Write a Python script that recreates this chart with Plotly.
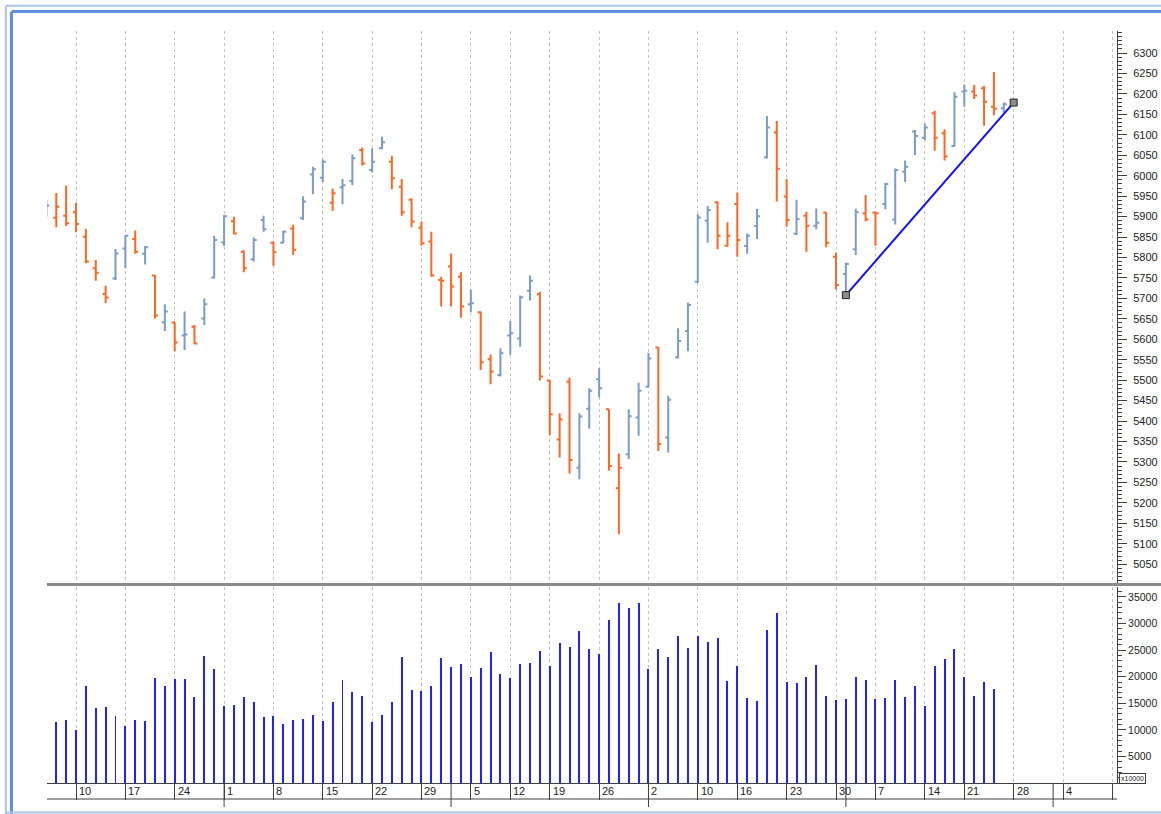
import plotly.graph_objects as go

# ---------------- data ----------------
bar_idx = list(range(-1, 97))
opens = [5915,
         5897, 5902, 5911, 5851, 5774, 5711, 5749, 5822, 5845, 5809,
         5756, 5642, 5641, 5609, 5631, 5651, 5751, 5837, 5889, 5814,
         5796, 5892, 5836, 5836, 5871, 5896, 6003, 5995, 5934, 5972,
         5987, 6063, 6014, 6067, 6034, 5973, 5941, 5873, 5839, 5745,
         5778, 5753, 5686, 5666, 5551, 5513, 5609, 5602, 5719, 5710,
         5499, 5355, 5496, 5286, 5430, 5502, 5429, 5236, 5319, 5409,
         5484, 5580, 5360, 5556, 5620, 5741, 5890, 5935, 5829, 5931,
         5828, 5877, 6045, 6106, 5949, 5858, 5902, 5878, 5910, 5802,
         5760, 5820, 5908, 5910, 5931, 5893, 6010, 6108, 6093, 6153,
         6104, 6073, 6206, 6206, 6214, 6169, 6165]
highs = [5940,
         5958, 5976, 5934, 5870, 5794, 5731, 5821, 5855, 5866, 5828,
         5757, 5686, 5642, 5668, 5635, 5700, 5853, 5904, 5900, 5818,
         5849, 5902, 5839, 5866, 5880, 5950, 6022, 6040, 5969, 5992,
         6052, 6069, 6067, 6096, 6049, 5992, 5945, 5888, 5863, 5753,
         5810, 5764, 5722, 5668, 5563, 5578, 5645, 5707, 5756, 5716,
         5500, 5419, 5506, 5419, 5480, 5529, 5429, 5321, 5429, 5494,
         5567, 5582, 5462, 5627, 5690, 5906, 5926, 5937, 5886, 5959,
         5859, 5919, 6146, 6134, 5992, 5941, 5912, 5920, 5911, 5812,
         5788, 5919, 5953, 5912, 5983, 6018, 6037, 6112, 6128, 6159,
         6114, 6204, 6223, 6222, 6220, 6254, 6179]
lows = [5900,
        5874, 5877, 5862, 5786, 5743, 5688, 5745, 5774, 5809, 5783,
        5651, 5620, 5571, 5574, 5588, 5635, 5749, 5828, 5857, 5764,
        5790, 5863, 5780, 5835, 5806, 5892, 5955, 5984, 5914, 5930,
        5977, 6025, 6008, 6065, 5967, 5902, 5874, 5829, 5753, 5680,
        5680, 5653, 5666, 5525, 5490, 5509, 5562, 5582, 5695, 5499,
        5366, 5311, 5272, 5258, 5381, 5458, 5279, 5123, 5307, 5364,
        5483, 5327, 5323, 5553, 5571, 5738, 5836, 5820, 5827, 5802,
        5809, 5845, 6042, 5937, 5875, 5855, 5814, 5869, 5825, 5722,
        5710, 5806, 5889, 5829, 5918, 5881, 5985, 6051, 6087, 6061,
        6037, 6071, 6169, 6188, 6122, 6148, 6154]
closes = [5927,
          5924, 5884, 5882, 5790, 5763, 5702, 5810, 5853, 5814, 5825,
          5658, 5668, 5592, 5612, 5590, 5686, 5843, 5901, 5859, 5774,
          5843, 5869, 5813, 5863, 5819, 5937, 6016, 6034, 5957, 5977,
          6043, 6030, 6034, 6082, 5994, 5911, 5888, 5835, 5756, 5743,
          5729, 5680, 5688, 5544, 5521, 5566, 5615, 5703, 5743, 5509,
          5417, 5404, 5305, 5411, 5474, 5480, 5290, 5286, 5412, 5474,
          5553, 5344, 5452, 5596, 5684, 5898, 5916, 5853, 5853, 5843,
          5853, 5901, 6118, 6017, 5892, 5894, 5878, 5885, 5836, 5733,
          5784, 5911, 5893, 5908, 5980, 6014, 6022, 6097, 6118, 6093,
          6047, 6193, 6208, 6196, 6181, 6164, 6175]
# B = blue (close up vs previous close), O = orange
bar_colour = ("B"
              "OOOOOOBBOB"
              "OBOBOBBBOO"
              "BBOBOBBBOB"
              "BOBBOOOOOO"
              "OOBOOBBBBO"
              "OOOBBBOOBB"
              "BOBBBBBOOO"
              "BBBOOBOBOO"
              "BBOOBBBBBO"
              "OBBOOOB")

vol_idx = list(range(0, 96))
volume = [11450, 11830, 10010, 18220, 14150, 14330, 12580, 10770, 11830, 11640,
          19850, 18220, 19530, 19660, 16090, 23920, 21410, 14520, 14650, 16090,
          15210, 12390, 12640, 11080, 11830, 12020, 12830, 11640, 15210, 19340,
          17150, 16400, 11450, 12710, 15210, 23730, 17530, 17340, 18220, 23600,
          21850, 22350, 19910, 21660, 24670, 20530, 19720, 22350, 22540, 24850,
          22040, 26300, 25540, 28610, 25170, 24290, 30740, 33810, 32870, 33810,
          21470, 25170, 23790, 27670, 25360, 27670, 26610, 27300, 19160, 22040,
          15960, 15400, 28800, 31990, 18970, 18780, 20030, 22160, 16280, 15650,
          15900, 20030, 19340, 15780, 15960, 19340, 16090, 18220, 14400, 21970,
          23290, 25170, 19910, 16280, 18970, 17720]

week_pos = [2, 7, 12, 17, 22, 27, 32, 37, 42, 46, 50, 55, 60, 65, 69, 74, 79, 83, 88, 92, 97, 102, 107]
week_labels = ["10", "17", "24", "1", "8", "15", "22", "29", "5", "12", "19", "26",
               "2", "10", "16", "23", "30", "7", "14", "21", "28", "4", ""]
month_start = [17, 40, 60, 80, 101]

price_ticks = list(range(5050, 6301, 50))
vol_ticks = list(range(5000, 35001, 5000))
vol_tick_text = [str(v) for v in vol_ticks]

trend_x = [80, 97]
trend_y = [5708, 6179]

# ---------------- style ----------------
ORANGE = "#ff6622"
BLUE = "#7b9cc6"
W, H = 1161, 814
L, R, T, B = 47, 1117, 31, 783


def px(x):
    return (x - L) / (R - L)


def py(y):
    return (B - y) / (B - T)


fig = go.Figure()

for code, col in (("O", ORANGE), ("B", BLUE)):
    sel = [i for i, c in enumerate(bar_colour) if c == code]
    fig.add_trace(go.Ohlc(
        x=[bar_idx[i] for i in sel],
        open=[opens[i] for i in sel],
        high=[highs[i] for i in sel],
        low=[lows[i] for i in sel],
        close=[closes[i] for i in sel],
        increasing=dict(line=dict(color=col, width=2)),
        decreasing=dict(line=dict(color=col, width=2)),
        tickwidth=0.3,
        hoverinfo="skip",
        xaxis="x", yaxis="y",
    ))

fig.add_trace(go.Scatter(
    x=trend_x, y=trend_y, mode="lines+markers",
    line=dict(color="#1010ff", width=2),
    marker=dict(symbol="square", size=7, color="#8c8c8c",
                line=dict(color="#202020", width=1)),
    hoverinfo="skip", cliponaxis=False,
    xaxis="x", yaxis="y",
))

fig.add_trace(go.Bar(
    x=vol_idx, y=volume, width=0.1,
    marker=dict(color="#2222ff", line=dict(width=0)),
    hoverinfo="skip",
    xaxis="x2", yaxis="y2",
))

xr = [-0.94, 107.47]
grid = dict(showgrid=True, gridcolor="#c4c4c4", griddash="3px,3px", gridwidth=1)
axcol = "#404040"
tickfont = dict(family="Liberation Sans, Arial, sans-serif", size=11, color="#222222")

shapes = []
# panel separator
shapes.append(dict(type="line", xref="paper", yref="paper", x0=px(L), x1=px(1175),
                   y0=py(584.5), y1=py(584.5), line=dict(color="#8a8a8a", width=3)))
# date row bottom line
shapes.append(dict(type="line", xref="paper", yref="paper", x0=0, x1=1,
                   y0=py(799), y1=py(799), line=dict(color=axcol, width=1)))
# month separators
for m in month_start:
    shapes.append(dict(type="line", xref="x2", yref="paper", x0=m, x1=m,
                       y0=py(783), y1=py(807), line=dict(color=axcol, width=1)))
# frame
LIGHT = "#a6c3ec"
DARK = "#5f90dc"
shapes += [
    dict(type="line", xref="paper", yref="paper", x0=px(5.8), x1=px(1175), y0=py(5.8), y1=py(5.8),
         line=dict(color=LIGHT, width=2)),
    dict(type="line", xref="paper", yref="paper", x0=px(5.8), x1=px(5.8), y0=py(5.8), y1=py(830),
         line=dict(color=LIGHT, width=2)),
    dict(type="line", xref="paper", yref="paper", x0=px(11.5), x1=px(1175), y0=py(11.5), y1=py(11.5),
         line=dict(color=DARK, width=3)),
    dict(type="line", xref="paper", yref="paper", x0=px(11.5), x1=px(11.5), y0=py(11.5), y1=py(830),
         line=dict(color=DARK, width=3)),
    dict(type="line", xref="paper", yref="paper", x0=px(5.8), x1=px(1175), y0=py(812.5), y1=py(812.5),
         line=dict(color=LIGHT, width=2)),
]

annotations = []
for p, lab in zip(week_pos, week_labels):
    if lab:
        annotations.append(dict(x=p, xref="x2", y=py(791), yref="paper", text=lab,
                                showarrow=False, xanchor="left", yanchor="middle", xshift=1,
                                font=tickfont))
annotations.append(dict(x=px(1119), xref="paper", y=py(778), yref="paper", text="x10000",
                        showarrow=False, xanchor="left", yanchor="middle",
                        font=dict(family="Liberation Sans, Arial, sans-serif", size=7, color="#222"),
                        bordercolor=axcol, borderwidth=1, borderpad=1, bgcolor="white"))

volfont = dict(family="Liberation Sans, Arial, sans-serif", size=10.5, color="#222222")

fig.update_layout(
    width=W, height=H,
    margin=dict(l=L, r=W - R, t=T, b=H - B, autoexpand=False),
    paper_bgcolor="white", plot_bgcolor="white",
    showlegend=False,
    bargap=0,
    xaxis=dict(domain=[0, 1], anchor="y", range=xr, tickmode="array", tickvals=week_pos,
               showticklabels=False, ticks="", zeroline=False, showline=False, automargin=False,
               rangeslider=dict(visible=False), fixedrange=True, **grid),
    xaxis2=dict(domain=[0, 1], anchor="y2", range=xr, tickmode="array", tickvals=week_pos,
                showticklabels=False, ticks="outside", ticklen=16, tickcolor=axcol, tickwidth=1,
                showline=True, linecolor=axcol, linewidth=1, zeroline=False, automargin=False,
                **grid),
    yaxis=dict(domain=[py(583), 1], anchor="x", range=[5004, 6354], side="right",
               tickmode="array", tickvals=price_ticks, ticks="outside", ticklen=9,
               tickcolor=axcol, showline=True, linecolor=axcol, linewidth=1, automargin=False,
               minor=dict(tickmode="linear", tick0=5000, dtick=10, ticks="outside", ticklen=4,
                          tickcolor=axcol, showgrid=False),
               showgrid=False, zeroline=False, tickfont=tickfont, ticklabelstandoff=4),
    yaxis2=dict(domain=[0, py(587)], anchor="x2", range=[0, 36880], side="right",
                tickmode="array", tickvals=vol_ticks, ticktext=vol_tick_text,
                ticks="outside", ticklen=8, automargin=False,
                tickcolor=axcol, showline=True, linecolor=axcol, linewidth=1,
                minor=dict(tickmode="linear", tick0=0, dtick=1000, ticks="outside", ticklen=4,
                           tickcolor=axcol, showgrid=False),
                showgrid=False, zeroline=False, tickfont=volfont, ticklabelstandoff=0),
    shapes=shapes,
    annotations=annotations,
)

fig.write_html(
    "out.html",
    config={"displayModeBar": False},
    post_script="document.body.style.margin='0';document.body.style.padding='0';"
                "document.body.style.overflow='hidden';",
)
